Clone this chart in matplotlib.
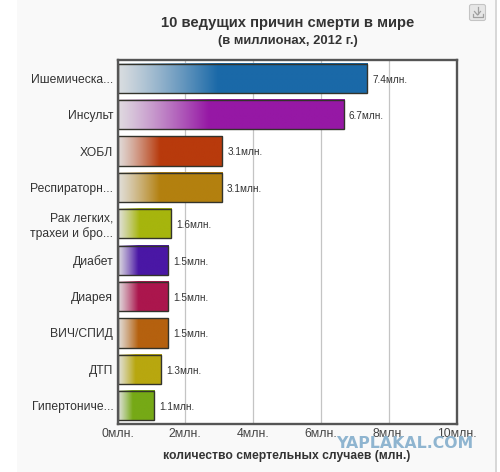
import numpy as np
import matplotlib
matplotlib.use("Agg")
import matplotlib.pyplot as plt
from matplotlib.colors import to_rgb
from matplotlib.lines import Line2D
from matplotlib.patches import FancyBboxPatch, Rectangle

plt.rcParams['font.family'] = ['Liberation Sans', 'DejaVu Sans']

# --- Data ---
categories = ["Ишемическа...", "Инсульт", "ХОБЛ", "Респираторн...",
              "Рак легких,\nтрахеи и бро...", "Диабет", "Диарея",
              "ВИЧ/СПИД", "ДТП", "Гипертониче..."]
values = [7.37, 6.68, 3.09, 3.08, 1.58, 1.5, 1.5, 1.5, 1.29, 1.09]
value_labels = ["7.4млн.", "6.7млн.", "3.1млн.", "3.1млн.", "1.6млн.",
                "1.5млн.", "1.5млн.", "1.5млн.", "1.3млн.", "1.1млн."]
colors = ["#1a69a8", "#9618a5", "#b83a0c", "#b3800f", "#a6b50d",
          "#4a17a5", "#ab164d", "#b5610f", "#b8a70f", "#76a916"]
xticks = [0, 2, 4, 6, 8, 10]
xticklabels = ["0млн.", "2млн.", "4млн.", "6млн.", "8млн.", "10млн."]

W, H = 500, 472
fig = plt.figure(figsize=(W / 100, H / 100), dpi=100, facecolor="white")

# --- Page panel behind the chart ---
fig.add_artist(Rectangle((17 / W, 0), 478 / W, 1, transform=fig.transFigure,
                         facecolor="#f9f9f9", edgecolor="none", zorder=-5))
fig.add_artist(Rectangle((495 / W, 0), 1.5 / W, 1, transform=fig.transFigure,
                         facecolor="#d8d8d8", edgecolor="none", zorder=-5))

ax = fig.add_axes([117.5 / W, 1 - 424 / H, 339 / W, 364 / H])
ax.set_facecolor("white")

y = np.arange(len(values))
bars = ax.barh(y, values, height=0.8, facecolor="none", edgecolor="#33332b",
               linewidth=1.0, zorder=4)

# --- Horizontal fade: light at the axis, full colour from 40% of the bar ---
for bar, col in zip(bars, colors):
    c = np.array(to_rgb(col))
    start = 0.05 * c + 0.95 * np.array([0.89, 0.89, 0.89])
    t = np.clip(np.linspace(0, 1, 200) / 0.4, 0, 1)[:, None] ** 1.15
    grad = (start * (1 - t) + c * t)[None, :, :]
    x0, y0 = bar.get_x(), bar.get_y()
    ax.imshow(grad, extent=(x0, x0 + bar.get_width(), y0 + bar.get_height(), y0),
              aspect="auto", interpolation="bilinear", zorder=3)

for yi, v, lab in zip(y, values, value_labels):
    ax.annotate(lab, (v, yi), xytext=(3.6, -1), textcoords="offset points",
                va="center", ha="left", fontsize=7.2, color="#333333", zorder=5)

ax.set_xlim(0, 10)
ax.set_ylim(len(values) - 0.5, -0.5)
ax.set_xticks(xticks)
ax.set_xticklabels(xticklabels, fontsize=8.8, color="#444444")
ax.set_yticks(y)
ax.set_yticklabels(categories, fontsize=8.7, color="#333333", linespacing=1.25)
ax.tick_params(axis="both", length=0, pad=3)
ax.grid(axis="x", color="#c4c4c4", linewidth=0.9, zorder=1)
ax.set_axisbelow(True)
for s in ax.spines.values():
    s.set_color("#555555")
    s.set_linewidth(1.7)
    s.set_zorder(6)

ax.set_xlabel("количество смертельных случаев (млн.)", fontsize=8.7,
              fontweight="bold", color="#333333", labelpad=7)

# --- Titles ---
fig.text(288 / W, 1 - 23.5 / H, "10 ведущих причин смерти в мире", ha="center",
         va="center", fontsize=10.6, fontweight="bold", color="#333333")
fig.text(288 / W, 1 - 41 / H, "(в миллионах, 2012 г.)", ha="center",
         va="center", fontsize=9.4, fontweight="bold", color="#333333")

# --- Download button, the arrow is drawn as lines ---
fig.add_artist(FancyBboxPatch((469.5 / W, 1 - 20.5 / H), 16 / W, 16 / H,
                              boxstyle="round,pad=0,rounding_size=0.004",
                              transform=fig.transFigure, facecolor="#e6e6e6",
                              edgecolor="#c4c4c4", linewidth=0.8))
icon_paths = [([477.5, 477.5], [7, 14]),
              ([474.5, 477.5, 480.5], [11.5, 15, 11.5]),
              ([472.5, 472.5, 482.5, 482.5], [13.5, 17, 17, 13.5])]
for px, py in icon_paths:
    fig.add_artist(Line2D(np.array(px) / W, 1 - np.array(py) / H,
                          transform=fig.transFigure, color="#a0a0a0", linewidth=0.9))

# --- Watermark ---
fig.text(473 / W, 1 - 443.5 / H, "YAPLAKAL.COM", ha="right", va="center",
         fontsize=11.3, fontweight="bold", color="#8fb5d0",
         family=["DejaVu Sans"], zorder=10)

fig.savefig("out.png", dpi=100, facecolor="white")
